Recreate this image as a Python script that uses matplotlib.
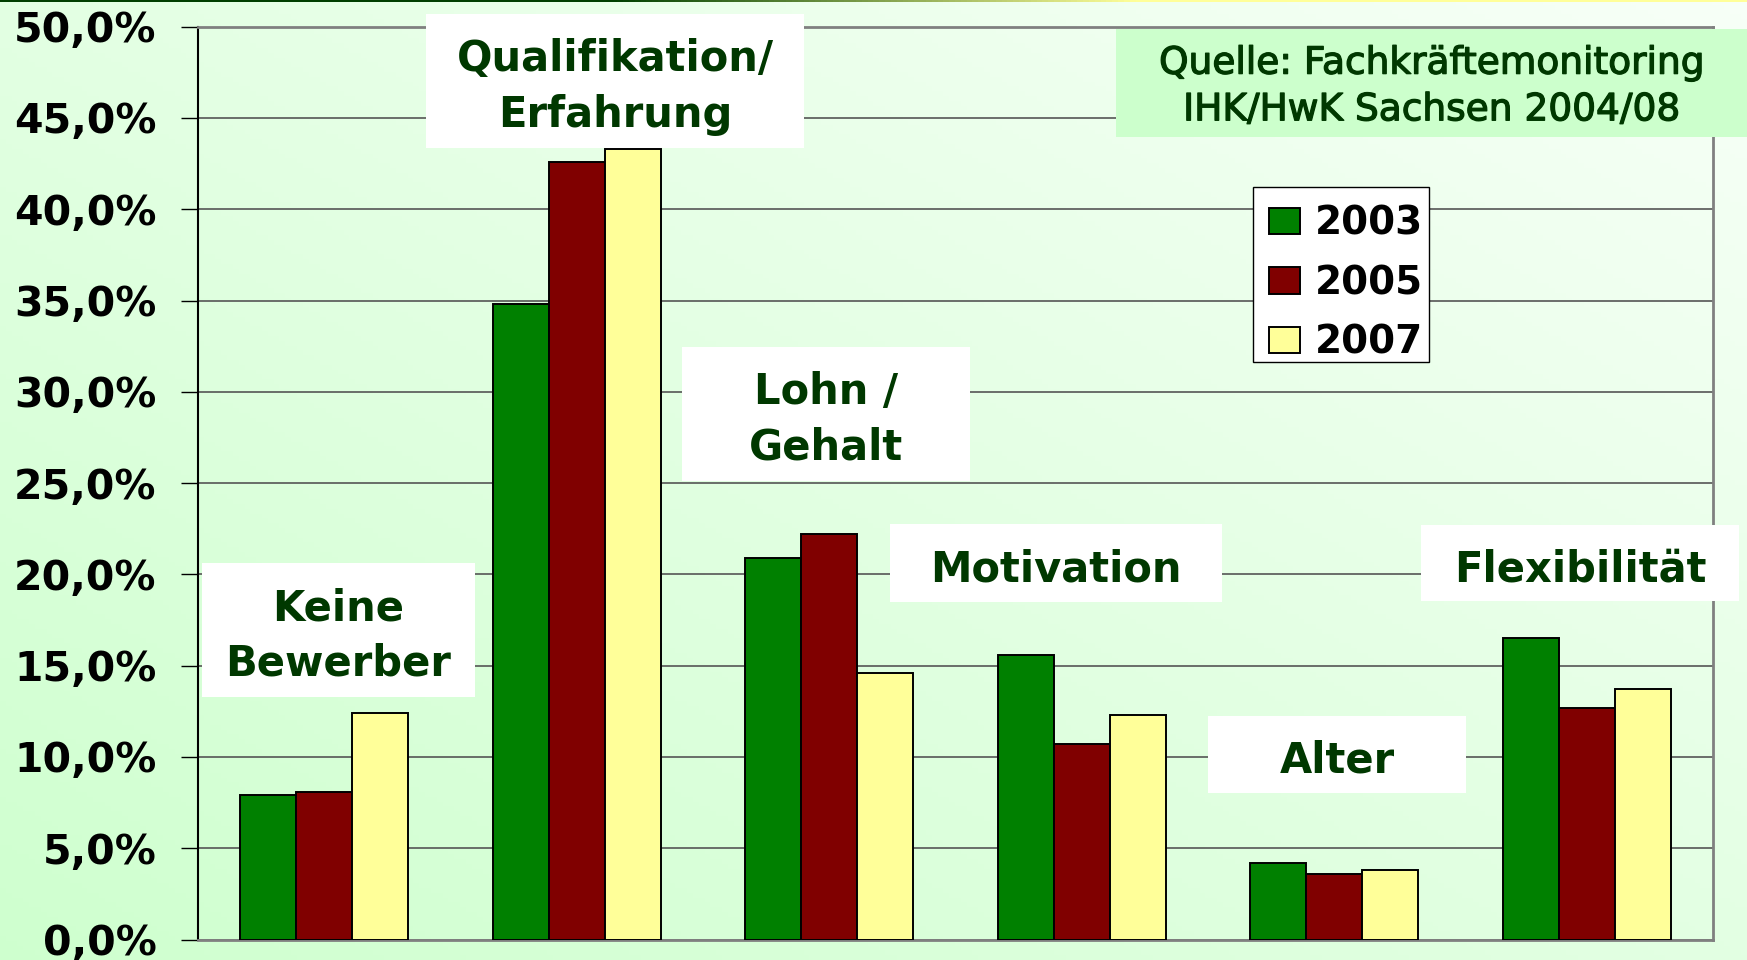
import numpy as np
import matplotlib
matplotlib.use("Agg")
import matplotlib.pyplot as plt
import matplotlib.patheffects as pe
from matplotlib.patches import Rectangle
from matplotlib.ticker import FuncFormatter

# data (percent)
categories = ["Keine\nBewerber", "Qualifikation/\nErfahrung", "Lohn /\nGehalt",
              "Motivation", "Alter", "Flexibilität"]
years = ["2003", "2005", "2007"]
v2003 = [7.9, 34.8, 20.9, 15.6, 4.2, 16.5]
v2005 = [8.1, 42.6, 22.2, 10.7, 3.6, 12.7]
v2007 = [12.4, 43.3, 14.6, 12.3, 3.8, 13.7]
y_ticks = [0, 5, 10, 15, 20, 25, 30, 35, 40, 45, 50]
source = "Quelle: Fachkräftemonitoring\nIHK/HwK Sachsen 2004/08"

colors = ["#008000", "#800000", "#ffff99"]
text_green = "#003800"

W, H = 1747, 960
fig = plt.figure(figsize=(W / 100, H / 100), dpi=100)

# diagonal green background
bg = fig.add_axes([0, 0, 1, 1], zorder=-10)
gx, gy = np.meshgrid(np.linspace(0, 1, 300), np.linspace(0, 1, 200))
t = (gx + gy) / 2
c0 = np.array([0.81, 1.0, 0.81])
c1 = np.array([0.97, 1.0, 0.97])
bg.imshow(c0 + (c1 - c0) * t[..., None], origin="lower", extent=[0, 1, 0, 1], aspect="auto")
bg.axis("off")

# thin line along the top edge
top = fig.add_axes([0, 1 - 2 / H, 1, 2 / H], zorder=-9)
s = np.linspace(0, 1, 300)[None, :, None]
g0 = np.array([0.0, 0.25, 0.0])
g1 = np.array([1.0, 1.0, 0.6])
top.imshow(g0 + (g1 - g0) * np.clip((s - 0.35) / 0.3, 0, 1), aspect="auto")
top.axis("off")


def px(x0, y0, x1, y1):
    # pixel box (top-left origin) -> figure fraction rect
    return [x0 / W, 1 - y1 / H, (x1 - x0) / W, (y1 - y0) / H]


def add_box(x0, y0, x1, y1, face, edge="none", lw=0, z=5):
    r = px(x0, y0, x1, y1)
    fig.add_artist(Rectangle((r[0], r[1]), r[2], r[3], transform=fig.transFigure,
                             facecolor=face, edgecolor=edge, linewidth=lw, zorder=z))


ax = fig.add_axes(px(198, 26.7, 1713, 939.5))
ax.patch.set_alpha(0)

x = np.arange(len(categories))
w = 0.222
for i, (vals, col, yr) in enumerate(zip([v2003, v2005, v2007], colors, years)):
    ax.bar(x + (i - 1) * w, vals, w, color=col, edgecolor="black",
           linewidth=1.4, label=yr, zorder=3)

ax.set_xlim(-0.5, 5.5)
ax.set_ylim(0, 50)
ax.set_xticks([])
ax.set_yticks(y_ticks)
ax.yaxis.set_major_formatter(FuncFormatter(lambda v, p: f"{v:.1f}".replace(".", ",") + "%"))
ax.tick_params(axis="y", length=12, width=1, pad=18, labelsize=29.5, colors="black")
for lab in ax.get_yticklabels():
    lab.set_fontweight("bold")
ax.yaxis.grid(True, color="#555555", linewidth=1.2)
ax.set_axisbelow(True)
ax.spines["left"].set_color("black")
ax.spines["left"].set_linewidth(1.5)
for side in ["bottom", "right", "top"]:
    ax.spines[side].set_color("#808080")
    ax.spines[side].set_linewidth(2)

# category labels in white boxes
label_boxes = [(202, 563, 475, 697), (426, 14, 804, 148), (682, 347, 970, 481),
               (890, 524, 1222, 602), (1208, 716, 1466, 793), (1421, 525, 1739, 601)]
for name, (x0, y0, x1, y1) in zip(categories, label_boxes):
    add_box(x0, y0, x1, y1, "white")
    fig.text((x0 + x1) / 2 / W, 1 - ((y0 + y1) / 2 + 6) / H, name, ha="center", va="center",
             fontsize=30, fontweight="bold", color=text_green, linespacing=1.42, zorder=6)

# source note
add_box(1116, 29, 1747, 137, "#ccffcc")
fig.text((1116 + 1747) / 2 / W, 1 - 87 / H, source, ha="center", va="center",
         fontsize=27, color=text_green, linespacing=1.38, zorder=6,
         path_effects=[pe.withStroke(linewidth=0.9, foreground=text_green)])

# legend: frame drawn separately, entries placed inside it
add_box(1253, 187, 1429, 362, "white", edge="black", lw=1.0, z=6)
leg = ax.legend(loc="upper left", bbox_to_anchor=(1257 / W, 1 - 193 / H),
                bbox_transform=fig.transFigure, borderaxespad=0,
                prop={"size": 28, "weight": "bold"}, frameon=False,
                handlelength=0.8, handleheight=0.67,
                handletextpad=0.4, labelspacing=0.55, borderpad=0.3)
leg.set_zorder(7)
fig.add_artist(leg)

fig.savefig("out.png", dpi=100)
